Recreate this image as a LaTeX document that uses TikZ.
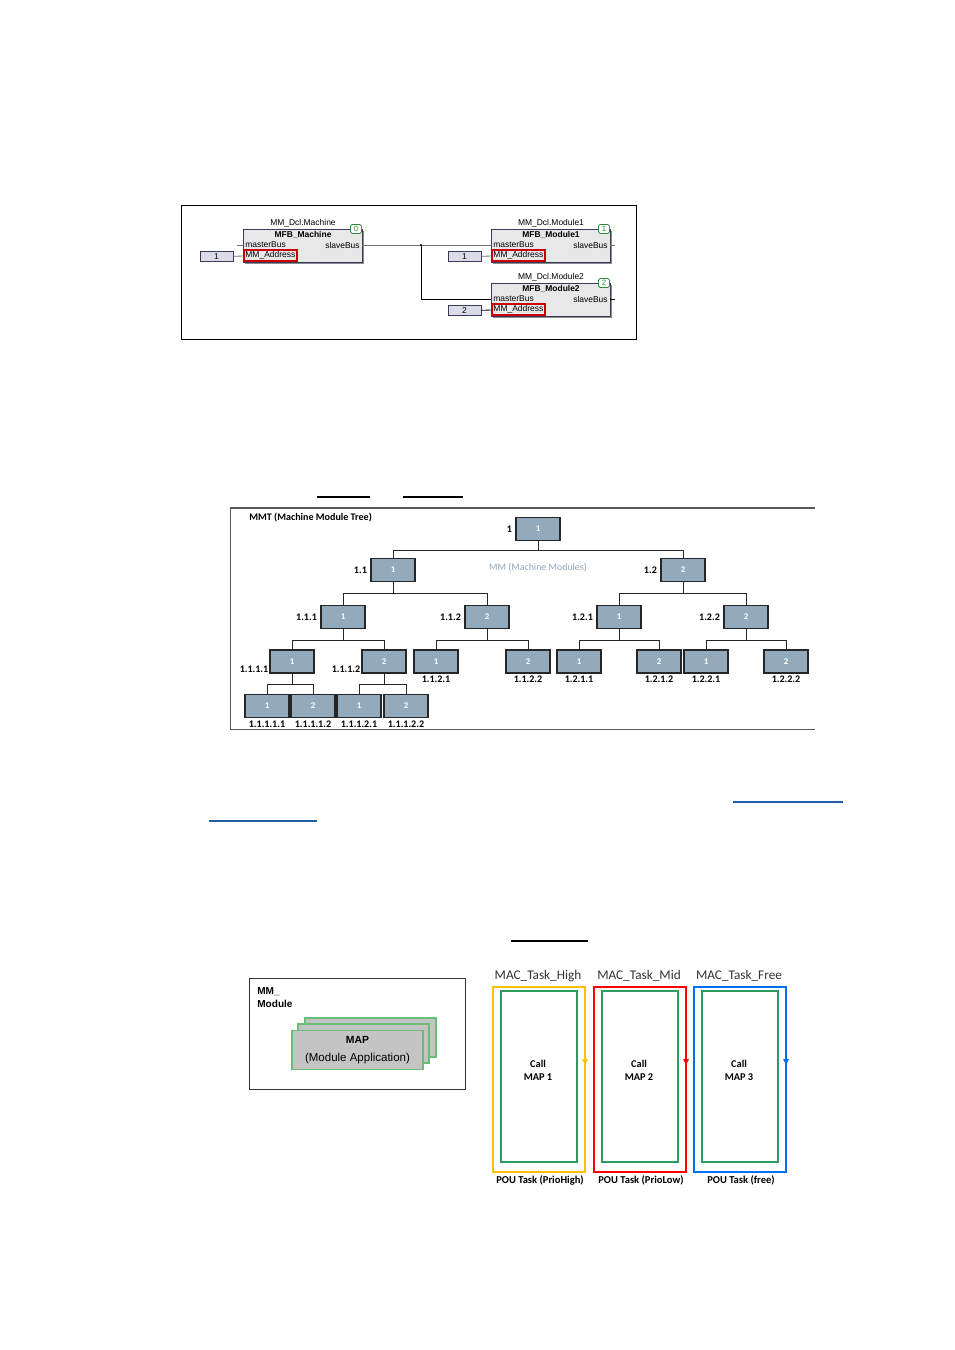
\documentclass[tikz,border=0pt]{standalone}
\usepackage{fontspec}
\setmainfont{Liberation Sans}
\newfontfamily\calfont{Carlito}
\usetikzlibrary{arrows.meta,positioning,calc}
\usepackage{xcolor}
\definecolor{BlkFill}{HTML}{E8E8E8}
\definecolor{BlkLine}{HTML}{3A3A5C}
\definecolor{InFill}{HTML}{DCDCE8}
\definecolor{AdrRed}{HTML}{CC0000}
\definecolor{BadgeGreen}{HTML}{2E8B3A}
\definecolor{TreeFill}{HTML}{93A9BC}
\definecolor{TreeLine}{HTML}{262626}
\definecolor{TreeNote}{HTML}{8FA6BC}
\definecolor{CardFill}{HTML}{C4C4C4}
\definecolor{CardLine}{HTML}{6ABD78}
\definecolor{TaskY}{HTML}{FFC000}
\definecolor{TaskR}{HTML}{FF0000}
\definecolor{TaskB}{HTML}{0070F0}
\definecolor{MapGreen}{HTML}{2E9B5E}
\definecolor{LinkBlue}{HTML}{1F5FA8}
\tikzset{
  px/.style={x=0.022cm,y=-0.022cm},
  fbd/.style={font=\fontsize{5.3}{6}\selectfont,inner sep=0pt},
  fbdb/.style={font=\bfseries\fontsize{5.3}{6}\selectfont,inner sep=0pt},
  blk/.style={draw=BlkLine,fill=BlkFill,line width=0.6pt,inner sep=0pt,
    minimum width=2.618cm,minimum height=0.726cm},
  adr/.style={draw=AdrRed,line width=1.1pt,inner sep=0pt,
    minimum width=1.166cm,minimum height=0.242cm,font=\fontsize{5.3}{6}\selectfont},
  badge/.style={draw=BadgeGreen,fill=white,text=BadgeGreen,rounded corners=1pt,
    line width=0.5pt,inner sep=0pt,minimum width=0.24cm,minimum height=0.2cm,
    font=\fontsize{4.8}{5}\selectfont},
  inbox/.style={draw=BlkLine,fill=InFill,line width=0.6pt,inner sep=0pt,
    minimum width=0.726cm,minimum height=0.2cm,font=\fontsize{5.3}{6}\selectfont},
  wire/.style={black!55,line width=0.5pt},
  mbox/.style={draw=TreeLine,fill=TreeFill,text=white,line width=0.8pt,inner sep=0pt,
    minimum width=0.968cm,minimum height=0.506cm,font=\calfont\bfseries\fontsize{5.5}{6}\selectfont},
  tlbl/.style={inner sep=0pt,font=\calfont\bfseries\fontsize{6.3}{7}\selectfont},
  tline/.style={TreeLine,line width=0.6pt},
  card/.style={draw=CardLine,fill=CardFill,line width=0.8pt,inner sep=0pt,
    minimum width=2.882cm,minimum height=0.858cm},
  tasklbl/.style={inner sep=0pt,text=black!80,font=\calfont\fontsize{8.3}{9}\selectfont},
  callt/.style={inner sep=0pt,align=center,font=\calfont\bfseries\fontsize{6.5}{8}\selectfont},
  poult/.style={inner sep=0pt,font=\calfont\bfseries\fontsize{6.6}{7}\selectfont}
}
\newcommand{\FBlock}[6]{%
  \fill[black!45] ({#2+2},{#3+2}) rectangle ({#2+121},{#3+35});
  \node[blk,anchor=north west] (#1) at (#2,#3) {};
  \node[fbd,anchor=south] at ({#2+60},{#3-1}) {#4};
  \node[fbdb,anchor=north] at ({#2+60},{#3+2}) {#5};
  \node[fbd,anchor=west] at ({#2+2},{#3+16}) {masterBus};
  \node[fbd,anchor=east] at ({#2+117},{#3+16}) {slaveBus};
  \node[adr,anchor=south west] (#1-ad) at (#2,{#3+33}) {MM\_Address};
  \node[badge] at ({#2+113},{#3}) {#6};
  \coordinate (#1-mb) at (#2,{#3+16});
  \coordinate (#1-sb) at ({#2+119},{#3+16});
}

\begin{document}
\begin{tikzpicture}[px]
\useasboundingbox (0,0) rectangle (954,1350);

% function block network
\draw[black,line width=0.6pt] (181,205) rectangle (636,339);
\FBlock{mach}{243}{229}{MM\_Dcl.Machine}{MFB\_Machine}{0}
\FBlock{modA}{491}{229}{MM\_Dcl.Module1}{MFB\_Module1}{1}
\FBlock{modB}{491}{283}{MM\_Dcl.Module2}{MFB\_Module2}{2}
\node[inbox] (mach-in) at (216.5,256.5) {1};
\node[inbox] (modA-in) at (464.5,256.5) {1};
\node[inbox] (modB-in) at (464.5,310.5) {2};
\draw[wire] (mach-in) -- (mach-ad);
\draw[wire] (modA-in) -- (modA-ad);
\draw[black,line width=0.5pt] (modB-in) -- (modB-ad);
\draw[wire] (mach-mb) -- ++(-6,0);
\draw[wire] (mach-sb) -- (modA-mb);
\draw[wire] (modA-sb) -- ++(5,0);
\draw[black,line width=0.5pt] (modB-sb) -- ++(5,0);
\coordinate (jn) at (421,245);
\draw[black,line width=0.6pt] (jn) |- (modB-mb);
\fill (jn) circle (0.7pt);

% stray underlines
\draw[black,line width=0.7pt] (317,497) -- (370,497);
\draw[black,line width=0.7pt] (403,497) -- (463,497);

% machine module tree
\draw[black!65,line width=1.2pt] (230,508) -- (815,508);
\draw[black!65,line width=0.6pt] (230,508) -- (230,729) -- (815,729);
\node[tlbl,anchor=west] (mmt) at (249,518) {MMT (Machine Module Tree)};
\node[inner sep=0pt,text=TreeNote,font=\calfont\fontsize{6.2}{7}\selectfont] (mmnote) at (538,568) {MM (Machine Modules)};
\foreach \n/\x/\y/\t in {t1/538/529/1, t11/393/570/1, t12/683/570/2,
  t111/343/617/1, t112/487/617/2, t121/619/617/1, t122/746/617/2,
  t1111/292/661.5/1, t1112/384/661.5/2, t1121/436/661.5/1, t1122/528/661.5/2,
  t1211/579/661.5/1, t1212/659/661.5/2, t1221/706/661.5/1, t1222/786/661.5/2,
  t11111/267/706/1, t11112/313/706/2, t11121/359/706/1, t11122/406/706/2}
  \node[mbox] (\n) at (\x,\y) {\t};
\foreach \p/\c/\d in {t1/t11/9, t1/t12/9, t11/t111/11.5, t11/t112/11.5,
  t12/t121/11.5, t12/t122/11.5, t111/t1111/11.5, t111/t1112/11.5,
  t112/t1121/11.5, t112/t1122/11.5, t121/t1211/11.5, t121/t1212/11.5,
  t122/t1221/11.5, t122/t1222/11.5, t1111/t11111/11, t1111/t11112/11,
  t1112/t11121/11, t1112/t11122/11}
  \draw[tline] (\p.south) -- ++(0,\d) -| (\c.north);
\foreach \n/\t in {t1/1, t11/1.1, t12/1.2, t111/1.1.1, t112/1.1.2, t121/1.2.1, t122/1.2.2}
  \node[tlbl,anchor=east] at ([xshift=-2pt]\n.west) {\t};
\foreach \n/\t in {t1111/1.1.1.1, t1112/1.1.1.2}
  \node[tlbl,anchor=east] at ([xshift=-0.5pt,yshift=-5pt]\n.west) {\t};
\foreach \n/\t in {t1121/1.1.2.1, t1122/1.1.2.2, t1211/1.2.1.1, t1212/1.2.1.2,
  t1221/1.2.2.1, t1222/1.2.2.2, t11111/1.1.1.1.1, t11112/1.1.1.1.2,
  t11121/1.1.1.2.1, t11122/1.1.1.2.2}
  \node[tlbl,anchor=north] at ([yshift=-1.5pt]\n.south) {\t};

% links
\draw[LinkBlue,line width=0.75pt] (733,802) -- (843,802);
\draw[LinkBlue,line width=0.75pt] (209,821) -- (317,821);
\draw[black,line width=0.7pt] (511,941) -- (588,941);

% module with applications
\draw[black!80,line width=0.6pt] (249,978) rectangle (465,1089);
\node[anchor=north west,inner sep=0pt,align=left,font=\bfseries\fontsize{6.3}{8.1}\selectfont] (mmmod) at (257,987) {MM\_\\Module};
\node[card] (map3) at (370.5,1037.5) {};
\node[card] (map2) at (363.5,1043.5) {};
\node[card,align=center] (map) at (357.5,1050) {{\bfseries\fontsize{6.5}{8}\selectfont MAP}\\[-1pt]{\fontsize{7.2}{8}\selectfont(Module Application)}};

% task frames
\foreach \x/\c/\h/\n/\p in {493/TaskY/High/1/PrioHigh, 594/TaskR/Mid/2/PrioLow, 694/TaskB/Free/3/free}{
  \node[tasklbl] (mac\n) at ({\x+45},976) {MAC\_Task\_\h};
  \draw[\c,line width=1.1pt] (\x,987) rectangle ({\x+92},1172);
  \draw[MapGreen,line width=1.7pt] ({\x+8},991) rectangle ({\x+84},1162);
  \fill[\c] ({\x+89},1059) -- ({\x+95},1059) -- ({\x+92},1065) -- cycle;
  \node[callt] (call\n) at ({\x+45},1070) {Call\\MAP \n};
  \node[poult] (pou\n) at ({\x+47},1180) {POU Task (\p)};
}
\end{tikzpicture}
\end{document}
